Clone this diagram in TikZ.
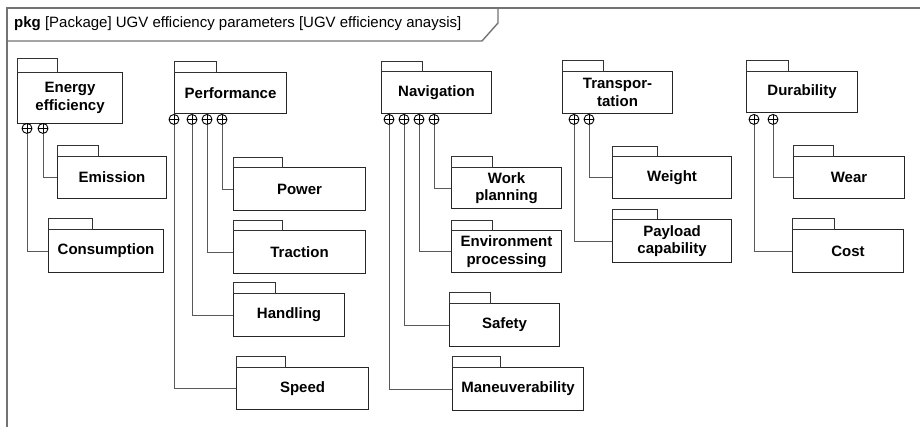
\documentclass[tikz,border=0pt]{standalone}
\usepackage{fontspec}
\setmainfont{Liberation Sans}
\usetikzlibrary{positioning}

\tikzset{
    package/.style={draw=black!85, line width=1.1pt, anchor=north west, align=center,
                    inner sep=1pt, font=\fontsize{15}{17.5}\selectfont\bfseries},
    pkgtab/.style={draw=black!80, line width=0.8pt},
    ownedby/.style={draw=black, line width=0.9pt, circle, minimum size=10pt, inner sep=0pt, anchor=north,
                    path picture={\draw[line width=0.9pt] (path picture bounding box.north) -- (path picture bounding box.south)
                                  (path picture bounding box.west) -- (path picture bounding box.east);}},
    link/.style={draw=black!65, line width=0.8pt},
    framel/.style={draw=black!55, line width=1.4pt}
}

\begin{document}
\begin{tikzpicture}[x=1pt, y=-1pt]
    \useasboundingbox (0,0) rectangle (920,427);
    \draw[framel] (7,440) -- (7,8) -- (930,8);
    \draw[framel] (7,41) -- (482,41) -- (498,23) -- (498,8);
    \node[anchor=west, inner sep=0pt, font=\fontsize{15}{17}\selectfont] (header) at (14,24)
        {\textbf{pkg} [Package] UGV efficiency parameters [UGV efficiency anaysis]};

    \node[package, minimum width=105pt, minimum height=51pt] (energy) at (17,72) {Energy\\efficiency};
    \node[package, minimum width=109pt, minimum height=42pt] (emission) at (57,156) {Emission};
    \node[package, minimum width=115pt, minimum height=43pt] (consumption) at (48,229) {Consumption};
    \draw[pkgtab] (energy.north west) rectangle ++(40,-14);
    \draw[pkgtab] (emission.north west) rectangle ++(41,-11);
    \draw[pkgtab] (consumption.north west) rectangle ++(44,-11);
    \node[ownedby] (ee1) at (27,123) {};
    \node[ownedby] (ee2) at (43,123) {};
    \draw[link] (ee1.south) |- (consumption.west);
    \draw[link] (ee2.south) |- (emission.west);

    \node[package, minimum width=112pt, minimum height=41pt] (performance) at (174,72) {Performance};
    \node[package, minimum width=132pt, minimum height=43pt] (power) at (233,167) {Power};
    \node[package, minimum width=132pt, minimum height=43pt] (traction) at (233,230) {Traction};
    \node[package, minimum width=111pt, minimum height=43pt] (handling) at (233,293) {Handling};
    \node[package, minimum width=132pt, minimum height=42pt] (speed) at (236,367) {Speed};
    \draw[pkgtab] (performance.north west) rectangle ++(42,-11);
    \draw[pkgtab] (power.north west) rectangle ++(49,-10);
    \draw[pkgtab] (traction.north west) rectangle ++(49,-10);
    \draw[pkgtab] (handling.north west) rectangle ++(42,-11);
    \draw[pkgtab] (speed.north west) rectangle ++(49,-11);
    \node[ownedby] (pf1) at (174,114) {};
    \node[ownedby] (pf2) at (192,114) {};
    \node[ownedby] (pf3) at (207,114) {};
    \node[ownedby] (pf4) at (222,114) {};
    \draw[link] (pf1.south) |- (speed.west);
    \draw[link] (pf2.south) |- (handling.west);
    \draw[link] (pf3.south) |- (traction.west);
    \draw[link] (pf4.south) |- (power.west);

    \node[package, minimum width=110pt, minimum height=42pt] (navigation) at (381,71) {Navigation};
    \node[package, minimum width=110pt, minimum height=41pt] (workplan) at (451,167) {Work\\planning};
    \node[package, minimum width=110pt, minimum height=42pt] (envproc) at (451,230) {Environment\\processing};
    \node[package, minimum width=110pt, minimum height=43pt] (safety) at (449,303) {Safety};
    \node[package, minimum width=131pt, minimum height=43pt] (maneuver) at (452,367) {Maneuverability};
    \draw[pkgtab] (navigation.north west) rectangle ++(41,-10);
    \draw[pkgtab] (workplan.north west) rectangle ++(41,-11);
    \draw[pkgtab] (envproc.north west) rectangle ++(41,-10);
    \draw[pkgtab] (safety.north west) rectangle ++(41,-11);
    \draw[pkgtab] (maneuver.north west) rectangle ++(48,-11);
    \node[ownedby] (nv1) at (389,114) {};
    \node[ownedby] (nv2) at (404,114) {};
    \node[ownedby] (nv3) at (419,114) {};
    \node[ownedby] (nv4) at (434,114) {};
    \draw[link] (nv1.south) |- (maneuver.west);
    \draw[link] (nv2.south) |- (safety.west);
    \draw[link] (nv3.south) |- (envproc.west);
    \draw[link] (nv4.south) |- (workplan.west);

    \node[package, minimum width=110pt, minimum height=42pt] (transport) at (562,71) {Transpor-\\tation};
    \node[package, minimum width=119pt, minimum height=42pt] (weight) at (612,156) {Weight};
    \node[package, minimum width=119pt, minimum height=43pt] (payload) at (612,219) {Payload\\capability};
    \draw[pkgtab] (transport.north west) rectangle ++(41,-11);
    \draw[pkgtab] (weight.north west) rectangle ++(45,-10);
    \draw[pkgtab] (payload.north west) rectangle ++(45,-10);
    \node[ownedby] (tr1) at (574,114) {};
    \node[ownedby] (tr2) at (589,114) {};
    \draw[link] (tr1.south) |- (payload.west);
    \draw[link] (tr2.south) |- (weight.west);

    \node[package, minimum width=111pt, minimum height=41pt] (durability) at (746,71) {Durability};
    \node[package, minimum width=111pt, minimum height=42pt] (wear) at (793,156) {Wear};
    \node[package, minimum width=111pt, minimum height=43pt] (cost) at (792,229) {Cost};
    \draw[pkgtab] (durability.north west) rectangle ++(42,-11);
    \draw[pkgtab] (wear.north west) rectangle ++(40,-11);
    \draw[pkgtab] (cost.north west) rectangle ++(42,-11);
    \node[ownedby] (du1) at (754,114) {};
    \node[ownedby] (du2) at (773,114) {};
    \draw[link] (du1.south) |- (cost.west);
    \draw[link] (du2.south) |- (wear.west);
\end{tikzpicture}
\end{document}
